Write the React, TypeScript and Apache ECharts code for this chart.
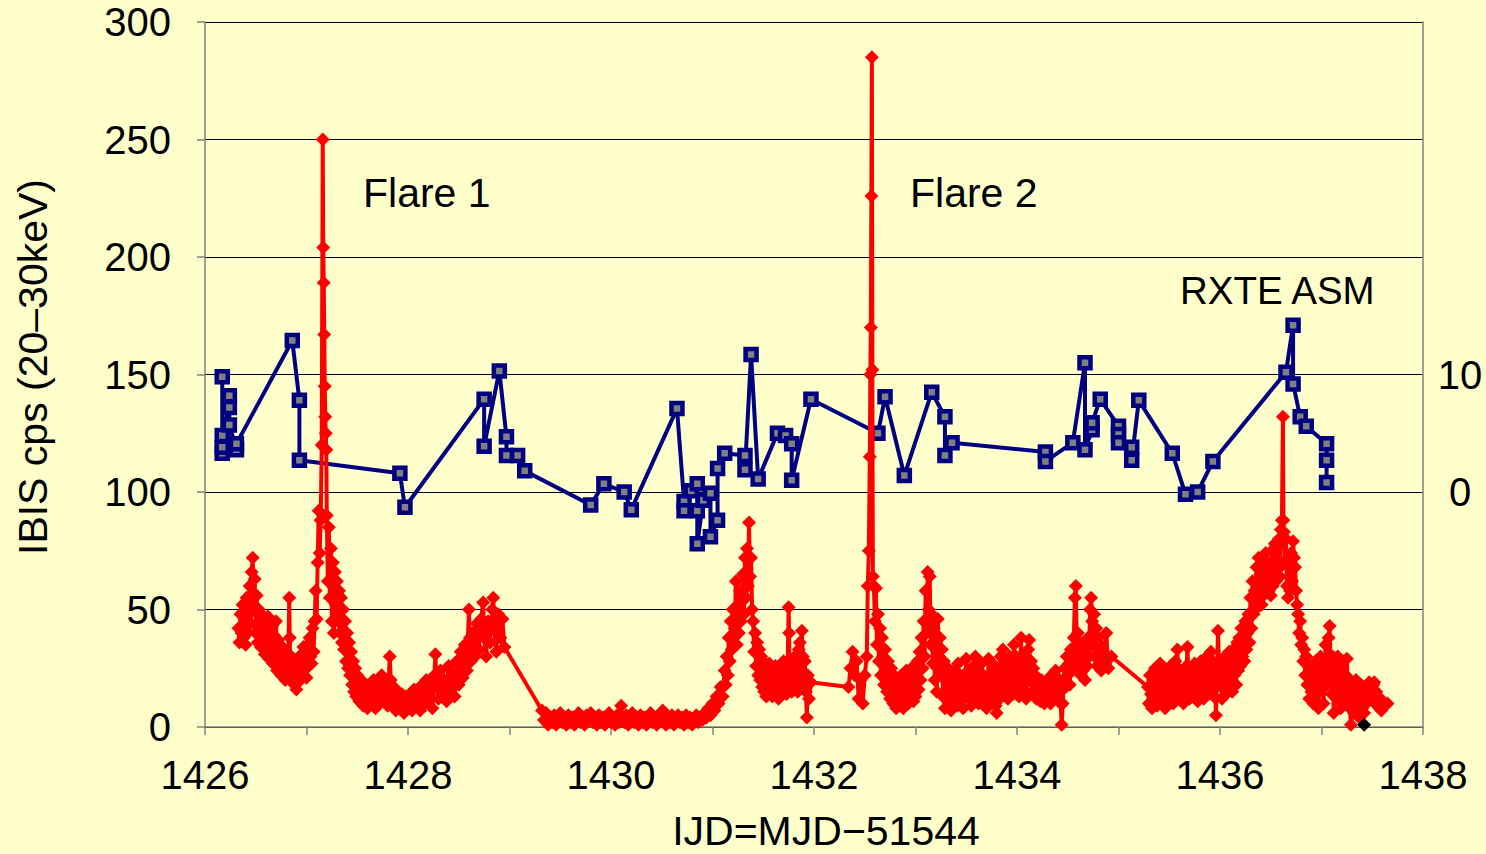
import React, { useEffect, useRef } from "react";
import * as echarts from "echarts";

// IBIS count rate (20-30 keV), [IJD, cps]
const ibisSeg1 = [
  [1426.33,42],[1426.34,36],[1426.35,48],[1426.36,40],[1426.37,52],[1426.38,38],[1426.39,46],[1426.40,35],[1426.41,55],[1426.42,40],
  [1426.43,48],[1426.44,60],[1426.45,44],[1426.46,66],[1426.47,72],[1426.48,52],[1426.49,63],[1426.50,40],[1426.51,56],[1426.52,36],
  [1426.53,50],[1426.54,42],[1426.55,34],[1426.56,48],[1426.57,38],[1426.58,46],[1426.59,31],[1426.60,44],[1426.61,36],[1426.62,47],
  [1426.63,29],[1426.64,41],[1426.65,33],[1426.66,43],[1426.67,27],[1426.68,39],[1426.69,30],[1426.70,45],[1426.71,24],[1426.72,37],
  [1426.73,28],[1426.74,35],[1426.75,22],[1426.76,33],[1426.77,26],[1426.78,31],[1426.79,20],[1426.80,32],[1426.81,24],[1426.82,28],
  [1426.83,55],[1426.835,38],[1426.84,22],[1426.85,30],[1426.86,19],[1426.87,27],[1426.88,18],[1426.89,26],[1426.90,16],[1426.91,25],
  [1426.92,19],[1426.93,28],[1426.94,21],[1426.95,31],[1426.96,22],[1426.97,34],[1426.98,24],[1426.99,30],[1427.00,21],[1427.01,35],
  [1427.02,26],[1427.03,38],[1427.04,30],[1427.05,27],[1427.06,42],[1427.07,32],[1427.08,45],[1427.09,58],[1427.10,46],[1427.11,70],
  [1427.12,92],[1427.13,74],[1427.14,88],[1427.15,120],[1427.16,250],[1427.165,204],[1427.17,189],[1427.175,167],[1427.18,145],[1427.185,132],
  [1427.19,125],[1427.195,118],[1427.20,90],[1427.21,62],[1427.22,85],[1427.23,55],[1427.24,76],[1427.25,45],[1427.26,70],[1427.27,40],
  [1427.28,66],[1427.29,52],[1427.30,62],[1427.31,45],[1427.32,58],[1427.33,40],[1427.34,55],[1427.35,36],[1427.36,50],[1427.37,33],
  [1427.38,45],[1427.39,28],[1427.40,40],[1427.41,25],[1427.42,36],[1427.43,22],[1427.44,32],[1427.45,18],[1427.46,28],[1427.47,15],
  [1427.48,25],[1427.49,13],[1427.50,22],[1427.52,11],[1427.54,20],[1427.56,9],[1427.58,18],[1427.60,8],[1427.62,16],[1427.64,10],
  [1427.66,20],[1427.68,8],[1427.70,17],[1427.72,10],[1427.74,22],[1427.76,12],[1427.78,18],[1427.80,9],[1427.82,30],[1427.83,20],
  [1427.84,12],[1427.86,17],[1427.88,7],[1427.90,15],[1427.92,9],[1427.94,14],[1427.96,6],[1427.98,13],[1428.00,8],[1428.02,14],
  [1428.04,7],[1428.06,16],[1428.08,9],[1428.10,15],[1428.12,7],[1428.14,18],[1428.16,10],[1428.18,20],[1428.20,12],[1428.22,17],
  [1428.24,8],[1428.26,22],[1428.27,31],[1428.28,18],[1428.30,12],[1428.32,24],[1428.34,14],[1428.36,20],[1428.38,11],[1428.40,26],
  [1428.42,16],[1428.44,23],[1428.46,13],[1428.48,28],[1428.50,18],[1428.52,32],[1428.54,21],[1428.56,35],[1428.58,24],[1428.60,50],
  [1428.61,38],[1428.62,28],[1428.64,40],[1428.66,30],[1428.68,44],[1428.70,33],[1428.72,46],[1428.74,53],[1428.75,38],[1428.77,30],
  [1428.79,45],[1428.81,36],[1428.83,50],[1428.84,55],[1428.85,42],[1428.87,32],[1428.89,48],[1428.91,38],[1428.93,46],[1428.95,34],
];

const ibisSeg2 = [
  [1429.32,7],[1429.34,3],[1429.36,6],[1429.38,1],[1429.40,4],[1429.42,2],[1429.44,5],[1429.46,1],[1429.48,3],[1429.50,6],
  [1429.52,2],[1429.54,4],[1429.56,1],[1429.58,5],[1429.60,2],[1429.62,4],[1429.64,1],[1429.66,3],[1429.68,6],[1429.70,2],
  [1429.72,4],[1429.74,1],[1429.76,5],[1429.78,3],[1429.80,6],[1429.82,2],[1429.84,4],[1429.86,1],[1429.88,5],[1429.90,2],
  [1429.92,4],[1429.94,1],[1429.96,3],[1429.98,6],[1430.00,2],[1430.02,4],[1430.04,1],[1430.06,5],[1430.08,2],[1430.10,9],
  [1430.11,4],[1430.13,2],[1430.15,5],[1430.17,1],[1430.19,3],[1430.21,6],[1430.23,2],[1430.25,4],[1430.27,1],[1430.29,5],
  [1430.31,2],[1430.33,4],[1430.35,1],[1430.37,3],[1430.39,6],[1430.41,2],[1430.43,4],[1430.45,1],[1430.47,5],[1430.49,3],
  [1430.51,7],[1430.52,3],[1430.54,1],[1430.56,4],[1430.58,2],[1430.60,5],[1430.62,1],[1430.64,3],[1430.66,5],[1430.68,2],
  [1430.70,4],[1430.72,1],[1430.74,5],[1430.76,2],[1430.78,4],[1430.80,1],[1430.82,3],[1430.84,5],[1430.86,2],[1430.88,4],
  [1430.90,3],[1430.92,6],[1430.94,4],[1430.96,8],[1430.98,5],[1431.00,10],[1431.02,7],[1431.04,13],[1431.06,10],[1431.08,17],
  [1431.10,13],[1431.12,24],[1431.13,18],[1431.14,30],[1431.15,22],[1431.16,38],[1431.17,28],[1431.18,45],[1431.19,33],[1431.20,50],
  [1431.21,38],[1431.22,42],[1431.23,62],[1431.24,35],[1431.25,52],[1431.26,40],[1431.27,58],[1431.28,45],[1431.29,55],[1431.30,65],
  [1431.31,48],[1431.32,72],[1431.33,55],[1431.34,76],[1431.35,60],[1431.36,87],[1431.37,64],[1431.38,72],[1431.39,50],[1431.40,45],
  [1431.41,32],[1431.42,40],[1431.43,26],[1431.44,36],[1431.45,22],[1431.46,33],[1431.47,20],[1431.48,30],[1431.49,17],[1431.50,28],
  [1431.51,15],[1431.52,25],[1431.53,13],[1431.54,22],[1431.55,16],[1431.56,27],[1431.57,18],[1431.58,24],[1431.59,13],[1431.60,21],
  [1431.61,15],[1431.62,26],[1431.63,18],[1431.64,22],[1431.65,12],[1431.66,20],[1431.67,14],[1431.68,24],[1431.69,16],[1431.70,28],
  [1431.71,18],[1431.72,22],[1431.73,14],[1431.74,25],[1431.75,51],[1431.755,40],[1431.76,20],[1431.77,28],[1431.78,15],[1431.79,24],
  [1431.80,17],[1431.81,30],[1431.82,20],[1431.83,26],[1431.84,15],[1431.85,33],[1431.86,36],[1431.87,22],[1431.88,41],[1431.89,30],
  [1431.90,18],[1431.91,28],[1431.92,15],[1431.93,4],[1431.94,22],[1431.95,12],[1431.97,19],
];

const ibisSeg3 = [
  [1432.34,17],[1432.36,25],[1432.38,32],[1432.40,22],[1432.42,28],[1432.44,12],[1432.46,20],[1432.48,10],[1432.50,22],[1432.52,30],
  [1432.53,60],[1432.54,75],[1432.55,115],[1432.555,150],[1432.56,170],[1432.565,226],[1432.57,285],[1432.575,152],[1432.58,64],[1432.59,60],
  [1432.60,45],[1432.61,59],[1432.62,35],[1432.63,48],[1432.64,28],[1432.65,42],[1432.66,22],[1432.67,38],[1432.68,30],[1432.69,18],
  [1432.70,33],[1432.71,24],[1432.72,15],[1432.73,28],[1432.74,20],[1432.75,12],[1432.76,25],[1432.77,18],[1432.78,10],[1432.79,22],
  [1432.80,14],[1432.81,8],[1432.82,20],[1432.83,12],[1432.84,18],[1432.85,9],[1432.86,22],[1432.87,14],[1432.88,8],[1432.89,19],
  [1432.90,12],[1432.91,24],[1432.92,15],[1432.93,10],[1432.94,21],[1432.95,14],[1432.96,25],[1432.97,17],[1432.98,11],[1432.99,20],
  [1433.00,13],[1433.01,22],[1433.02,28],[1433.03,16],[1433.04,32],[1433.05,20],[1433.06,38],[1433.07,25],[1433.08,45],[1433.09,30],
  [1433.10,58],[1433.11,40],[1433.12,66],[1433.13,50],[1433.14,64],[1433.15,35],[1433.16,48],[1433.17,27],[1433.18,42],[1433.19,20],
  [1433.20,36],[1433.21,15],[1433.22,46],[1433.23,30],[1433.24,38],[1433.25,22],[1433.26,33],[1433.27,13],[1433.28,28],[1433.29,8],
  [1433.30,22],[1433.31,15],[1433.32,25],[1433.33,10],[1433.34,20],[1433.35,7],[1433.36,18],[1433.37,12],[1433.38,24],[1433.39,14],
  [1433.40,20],[1433.41,9],[1433.42,27],[1433.43,16],[1433.44,22],[1433.45,11],[1433.46,18],[1433.47,8],[1433.48,20],[1433.49,13],
  [1433.50,29],[1433.51,18],[1433.52,24],[1433.53,12],[1433.54,20],[1433.55,9],[1433.56,17],[1433.57,26],[1433.58,14],[1433.59,30],
  [1433.60,18],[1433.61,24],[1433.62,10],[1433.63,20],[1433.64,14],[1433.65,27],[1433.66,16],[1433.67,22],[1433.68,11],[1433.69,19],
  [1433.70,8],[1433.71,17],[1433.72,29],[1433.73,15],[1433.74,22],[1433.75,11],[1433.76,27],[1433.77,14],[1433.78,20],[1433.79,9],
  [1433.80,6],[1433.81,18],[1433.82,24],[1433.83,12],[1433.84,30],[1433.85,19],[1433.86,33],[1433.87,22],[1433.88,28],[1433.89,15],
  [1433.90,25],[1433.91,12],[1433.92,20],[1433.93,30],[1433.94,18],[1433.95,26],[1433.96,14],[1433.97,35],[1433.98,22],[1433.99,30],
  [1434.00,17],[1434.01,27],[1434.02,13],[1434.03,24],[1434.04,38],[1434.05,20],[1434.06,30],[1434.07,16],[1434.08,27],[1434.09,12],
  [1434.10,22],[1434.11,33],[1434.12,37],[1434.13,20],[1434.14,28],[1434.15,14],[1434.16,25],[1434.17,18],[1434.18,22],[1434.19,12],
  [1434.20,19],[1434.21,14],[1434.22,17],[1434.23,11],[1434.24,20],[1434.25,13],[1434.26,18],[1434.27,10],[1434.28,16],[1434.29,12],
  [1434.30,20],[1434.31,14],[1434.32,18],[1434.33,10],[1434.34,22],[1434.35,15],[1434.36,19],[1434.37,12],[1434.38,24],[1434.39,16],
  [1434.40,21],[1434.41,13],[1434.42,18],[1434.43,10],[1434.44,1],[1434.45,10],[1434.46,19],[1434.47,25],[1434.48,17],[1434.49,30],
  [1434.50,22],[1434.51,27],[1434.52,18],[1434.53,33],[1434.54,24],[1434.55,29],[1434.56,38],[1434.57,55],[1434.58,60],[1434.59,30],
  [1434.60,40],[1434.61,26],[1434.62,36],[1434.63,22],[1434.64,30],[1434.65,24],[1434.66,35],[1434.67,20],[1434.68,32],[1434.69,26],
  [1434.70,38],[1434.71,30],[1434.72,50],[1434.73,55],[1434.74,45],[1434.75,35],[1434.76,48],[1434.77,30],[1434.78,42],[1434.79,26],
  [1434.80,38],[1434.81,28],[1434.82,35],[1434.83,24],[1434.84,32],[1434.85,28],[1434.88,40],[1434.90,25],[1434.93,30],
];

const ibisSeg4 = [
  [1435.29,17],[1435.30,10],[1435.31,22],[1435.32,14],[1435.33,8],[1435.34,20],[1435.35,12],[1435.36,25],[1435.37,15],[1435.38,9],
  [1435.39,21],[1435.40,13],[1435.41,27],[1435.42,16],[1435.43,10],[1435.44,22],[1435.45,14],[1435.46,8],[1435.47,24],[1435.48,15],
  [1435.49,20],[1435.50,11],[1435.51,26],[1435.52,15],[1435.53,22],[1435.54,10],[1435.55,18],[1435.56,28],[1435.57,14],[1435.58,33],
  [1435.59,20],[1435.60,12],[1435.61,24],[1435.62,16],[1435.63,22],[1435.64,10],[1435.65,20],[1435.66,14],[1435.67,26],[1435.68,34],
  [1435.69,18],[1435.70,12],[1435.71,25],[1435.72,15],[1435.73,22],[1435.74,13],[1435.75,27],[1435.76,16],[1435.77,21],[1435.78,11],
  [1435.79,24],[1435.80,17],[1435.81,28],[1435.82,15],[1435.83,23],[1435.84,12],[1435.85,25],[1435.86,18],[1435.87,30],[1435.88,16],
  [1435.89,26],[1435.90,20],[1435.91,32],[1435.92,18],[1435.93,28],[1435.94,13],[1435.95,24],[1435.96,5],[1435.97,20],[1435.98,41],
  [1435.99,26],[1436.00,18],[1436.01,28],[1436.02,12],[1436.03,24],[1436.04,16],[1436.05,30],[1436.06,14],[1436.07,26],[1436.08,18],
  [1436.09,32],[1436.10,20],[1436.11,28],[1436.12,15],[1436.13,33],[1436.14,22],[1436.15,30],[1436.16,18],[1436.17,36],[1436.18,24],
  [1436.19,38],[1436.20,26],[1436.21,42],[1436.22,30],[1436.23,37],[1436.24,28],[1436.25,45],[1436.26,33],[1436.27,40],[1436.28,48],
  [1436.29,36],[1436.30,55],[1436.31,42],[1436.32,62],[1436.33,48],[1436.34,58],[1436.35,50],[1436.36,68],[1436.37,55],[1436.38,72],
  [1436.39,58],[1436.40,65],[1436.41,52],[1436.42,70],[1436.43,56],[1436.44,64],[1436.45,74],[1436.46,60],[1436.47,70],[1436.48,58],
  [1436.49,66],[1436.50,56],[1436.51,75],[1436.52,60],[1436.53,70],[1436.54,78],[1436.55,62],[1436.56,72],[1436.57,67],[1436.58,80],
  [1436.59,64],[1436.60,84],[1436.61,88],[1436.62,132],[1436.625,88],[1436.63,83],[1436.64,70],[1436.65,80],[1436.66,60],[1436.67,55],
  [1436.68,68],[1436.69,58],[1436.70,74],[1436.71,62],[1436.72,79],[1436.73,72],[1436.74,68],[1436.75,58],[1436.76,52],[1436.77,48],
  [1436.78,40],[1436.79,45],[1436.80,35],[1436.81,38],[1436.82,28],[1436.83,33],[1436.84,22],[1436.85,30],[1436.86,18],[1436.87,26],
  [1436.88,12],[1436.89,22],[1436.90,15],[1436.91,25],[1436.92,10],[1436.93,20],[1436.94,28],[1436.95,14],[1436.96,24],[1436.97,8],
  [1436.98,20],[1436.99,30],[1437.00,16],[1437.01,25],[1437.02,10],[1437.03,22],[1437.04,35],[1437.05,18],[1437.06,28],[1437.07,38],
  [1437.08,43],[1437.09,24],[1437.10,14],[1437.11,30],[1437.12,6],[1437.13,20],[1437.14,26],[1437.15,12],[1437.16,30],[1437.17,18],
  [1437.18,24],[1437.19,8],[1437.20,20],[1437.21,14],[1437.22,28],[1437.23,10],[1437.24,22],[1437.25,29],[1437.26,15],[1437.27,20],
  [1437.28,8],[1437.29,1],[1437.30,12],[1437.31,19],[1437.32,6],[1437.33,14],[1437.34,20],[1437.35,9],[1437.36,16],[1437.37,4],
  [1437.38,12],[1437.39,18],[1437.40,8],[1437.41,14],[1437.42,6],[1437.43,15],[1437.44,10],[1437.45,17],[1437.46,11],[1437.47,19],
  [1437.48,12],[1437.49,16],[1437.50,14],[1437.51,18],[1437.52,19],[1437.53,12],[1437.54,15],[1437.55,9],[1437.56,13],[1437.57,8],
  [1437.58,12],[1437.59,7],[1437.60,11],[1437.62,9],[1437.65,10],
];

// RXTE ASM count rate, [IJD, cts/s] (right axis)
const asmData = [
  [1426.17,9.8],[1426.17,4.8],[1426.17,3.3],[1426.17,3.8],[1426.24,8.2],[1426.24,7.2],[1426.24,5.7],[1426.31,3.6],[1426.31,4.1],
  [1426.86,12.9],[1426.93,7.8],[1426.93,2.7],[1427.92,1.6],[1427.97,-1.3],[1428.75,7.9],[1428.75,3.9],[1428.90,10.3],[1428.97,4.7],
  [1428.97,3.1],[1429.08,3.1],[1429.15,1.8],[1429.80,-1.1],[1429.93,0.7],[1430.13,0],[1430.20,-1.5],[1430.65,7.1],[1430.72,-0.8],
  [1430.72,-1.6],[1430.79,0.1],[1430.85,0.7],[1430.85,-1.6],[1430.85,-4.4],[1430.91,-0.7],[1430.98,-0.1],[1430.98,-3.8],[1431.05,-2.4],
  [1431.05,2],[1431.12,3.3],[1431.32,3.1],[1431.32,1.9],[1431.38,11.7],[1431.45,1.1],[1431.64,5],[1431.72,4.8],[1431.78,4.1],
  [1431.78,1],[1431.97,7.9],[1432.63,5],[1432.70,8.1],[1432.89,1.4],[1433.16,8.5],[1433.29,6.4],[1433.29,3.1],[1433.36,4.2],
  [1434.28,3.4],[1434.28,2.6],[1434.55,4.2],[1434.67,11],[1434.67,3.6],[1434.74,5.3],[1434.74,5.9],[1434.82,7.9],[1435.00,5.6],
  [1435.00,4.9],[1435.00,4.2],[1435.13,3.8],[1435.13,2.7],[1435.20,7.8],[1435.53,3.3],[1435.66,-0.2],[1435.78,0],[1435.93,2.6],
  [1436.65,10.2],[1436.72,14.2],[1436.72,9.2],[1436.79,6.4],[1436.85,5.6],[1437.05,4.1],[1437.05,2.7],[1437.05,0.8],
];

const otherData = [[1437.42, 1]];

const xTitle = "IJD=MJD\u221251544";
const yTitle = "IBIS cps (20\u201330keV)";
const annotations = [
  { text: "Flare 1", x: 363, y: 193, size: 41 },
  { text: "Flare 2", x: 910, y: 193, size: 41 },
  { text: "RXTE ASM", x: 1180, y: 290, size: 38.5 },
];

const FONT = "'Liberation Sans', Arial, Helvetica, sans-serif";
const BG = "#FFFFCC";

export default function App() {
  const ref = useRef<HTMLDivElement>(null);
  useEffect(() => {
    const chart = echarts.init(ref.current!, null, { renderer: "svg" });
    const ibisData = [...ibisSeg1, ...ibisSeg2, ...ibisSeg3, ...ibisSeg4];
    const axisLine = { show: true, lineStyle: { color: "#808080", width: 1.5 } };
    chart.setOption({
      animation: false,
      backgroundColor: BG,
      grid: { left: 205, right: 63, top: 22, bottom: 127 },
      xAxis: {
        type: "value",
        min: 1426,
        max: 1438,
        interval: 1,
        axisLine: { ...axisLine, onZero: false },
        axisTick: { show: true, inside: false, length: 8, lineStyle: { color: "#808080", width: 1.5 } },
        splitLine: { show: false },
        axisLabel: {
          margin: 28,
          fontSize: 40,
          fontFamily: FONT,
          color: "#000",
          showMinLabel: true,
          showMaxLabel: true,
          formatter: (v: number) => (Math.round(v) % 2 === 0 ? String(Math.round(v)) : ""),
        },
      },
      yAxis: [
        {
          type: "value",
          min: 0,
          max: 300,
          interval: 50,
          axisLine: axisLine,
          axisTick: { show: true, inside: false, length: 8, lineStyle: { color: "#808080", width: 1.5 } },
          splitLine: { show: true, lineStyle: { color: "#000", width: 1 } },
          axisLabel: { margin: 34, fontSize: 40, fontFamily: FONT, color: "#000" },
        },
        {
          type: "value",
          position: "right",
          min: -20,
          max: 40,
          interval: 10,
          axisLine: axisLine,
          axisTick: { show: false },
          splitLine: { show: false },
          axisLabel: {
            margin: 37,
            align: "center",
            fontSize: 40,
            fontFamily: FONT,
            color: "#000",
            formatter: (v: number) => (v === 0 || v === 10 ? String(v) : ""),
          },
        },
      ],
      series: [
        {
          name: "RXTE ASM",
          type: "line",
          yAxisIndex: 1,
          data: asmData,
          symbol: "rect",
          symbolSize: 11,
          showAllSymbol: true,
          lineStyle: { color: "#000080", width: 4 },
          itemStyle: { color: "#808080", borderColor: "#000080", borderWidth: 4.5 },
          z: 2,
        },
        {
          name: "IBIS",
          type: "line",
          data: ibisData,
          symbol: "diamond",
          symbolSize: 14,
          showAllSymbol: true,
          lineStyle: { color: "#FF0000", width: 4 },
          itemStyle: { color: "#FF0000" },
          z: 3,
        },
        {
          name: "other",
          type: "line",
          data: otherData,
          symbol: "diamond",
          symbolSize: 14,
          itemStyle: { color: "#000" },
          z: 4,
        },
      ],
      graphic: [
        ...annotations.map((a) => ({
          type: "text",
          x: a.x,
          y: a.y,
          z: 10,
          style: { text: a.text, fill: "#000", fontSize: a.size, fontFamily: FONT, align: "left", verticalAlign: "middle" },
        })),
        {
          type: "text",
          x: 826,
          y: 831,
          z: 10,
          style: { text: xTitle, fill: "#000", fontSize: 41, fontFamily: FONT, align: "center", verticalAlign: "middle" },
        },
        {
          type: "text",
          x: 33,
          y: 367,
          rotation: Math.PI / 2,
          z: 10,
          style: { text: yTitle, fill: "#000", fontSize: 41, fontFamily: FONT, align: "center", verticalAlign: "middle" },
        },
      ],
    });
    return () => chart.dispose();
  }, []);
  return (
    <div
      ref={ref}
      style={{ position: "fixed", left: 0, top: 0, width: 1486, height: 854, background: BG }}
    />
  );
}
